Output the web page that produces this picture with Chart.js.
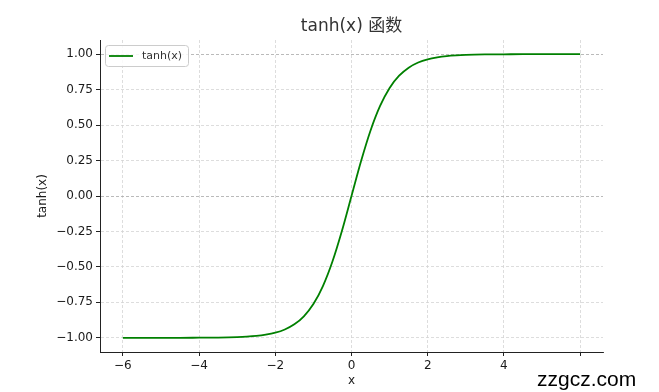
<!DOCTYPE html>
<html><head><meta charset="utf-8">
<script src="https://cdn.jsdelivr.net/npm/chart.js@4"></script>
<style>html,body{margin:0;padding:0;background:#fff}</style>
</head><body>
<canvas id="c" width="659" height="392"></canvas>
<script>
const chartTitle = 'tanh(x) 函数';
const seriesName = 'tanh(x)';
const xAxisTitle = 'x';
const yAxisTitle = 'tanh(x)';
const watermark = 'zzgcz.com';

const xValues = [-6, -5.5, -5, -4.5, -4, -3.5, -3, -2.75, -2.5, -2.25, -2, -1.75, -1.5, -1.25, -1, -0.75, -0.5, -0.25,
  0, 0.25, 0.5, 0.75, 1, 1.25, 1.5, 1.75, 2, 2.25, 2.5, 2.75, 3, 3.5, 4, 4.5, 5, 5.5, 6];
const yValues = [-1.000, -1.000, -1.000, -1.000, -0.999, -0.998, -0.995, -0.992, -0.987, -0.978, -0.964, -0.941, -0.905, -0.848, -0.762, -0.635, -0.462, -0.245,
  0.000, 0.245, 0.462, 0.635, 0.762, 0.848, 0.905, 0.941, 0.964, 0.978, 0.987, 0.992, 0.995, 0.998, 0.999, 1.000, 1.000, 1.000, 1.000];

const xTicks = [-6, -4, -2, 0, 2, 4, 6];
const xTickLabels = ['−6', '−4', '−2', '0', '2', '4', ''];
const yTicks = [-1, -0.75, -0.5, -0.25, 0, 0.25, 0.5, 0.75, 1];
const yTickLabels = ['−1.00', '−0.75', '−0.50', '−0.25', '0.00', '0.25', '0.50', '0.75', '1.00'];

const FF = '"DejaVu Sans", "Noto Sans CJK SC", sans-serif';
const lineColor = '#008000';
const textColor = '#1a1a1a';

const points = xValues.map((x, i) => ({x: x, y: yValues[i]}));

const overlay = {
  id: 'overlay',
  afterDraw(chart) {
    const ctx = chart.ctx, ca = chart.chartArea;
    ctx.save();
    // title
    ctx.fillStyle = '#333';
    ctx.font = '17px ' + FF;
    ctx.textAlign = 'center';
    ctx.textBaseline = 'middle';
    ctx.fillText(chartTitle, (ca.left + ca.right) / 2, 27);
    // legend
    const lx = 105, ly = 45, lw = 83, lh = 21;
    ctx.fillStyle = 'rgba(255,255,255,0.85)';
    ctx.strokeStyle = '#cccccc';
    ctx.lineWidth = 1;
    ctx.beginPath();
    if (ctx.roundRect) ctx.roundRect(lx + 0.5, ly + 0.5, lw, lh, 3); else ctx.rect(lx + 0.5, ly + 0.5, lw, lh);
    ctx.fill(); ctx.stroke();
    ctx.strokeStyle = lineColor;
    ctx.lineWidth = 1.8;
    ctx.beginPath();
    ctx.moveTo(109, ly + lh / 2 + 0.5);
    ctx.lineTo(133, ly + lh / 2 + 0.5);
    ctx.stroke();
    ctx.fillStyle = '#333';
    ctx.font = '11px ' + FF;
    ctx.textAlign = 'left';
    ctx.fillText(seriesName, 142, ly + lh / 2 + 1);
    // watermark
    ctx.fillStyle = '#000';
    ctx.font = '21px "Liberation Sans", Arial, sans-serif';
    ctx.textAlign = 'left';
    ctx.fillText(watermark, 537, 380);
    ctx.restore();
  }
};

new Chart(document.getElementById('c'), {
  type: 'line',
  data: {
    datasets: [{
      label: seriesName,
      data: points,
      borderColor: lineColor,
      backgroundColor: lineColor,
      borderWidth: 1.8,
      pointRadius: 0,
      fill: false,
      cubicInterpolationMode: 'monotone'
    }]
  },
  options: {
    responsive: false,
    animation: false,
    devicePixelRatio: 1,
    layout: {padding: {top: 40, right: 56, left: 0, bottom: 0}},
    plugins: {legend: {display: false}, title: {display: false}, tooltip: {enabled: false}},
    scales: {
      x: {
        type: 'linear', min: -6.6, max: 6.6,
        afterBuildTicks: s => { s.ticks = xTicks.map(v => ({value: v})); },
        afterFit: s => { s.height = 40; },
        ticks: {
          callback: (v) => { const i = xTicks.indexOf(v); return i >= 0 ? xTickLabels[i] : ''; },
          font: {size: 12, family: FF}, color: textColor, padding: 3, maxRotation: 0, autoSkip: false
        },
        grid: {color: '#d4d4d4', lineWidth: 0.8, tickLength: 4, tickColor: '#222', tickWidth: 1},
        border: {display: true, color: '#222', width: 1, dash: [3, 2]},
        title: {display: true, text: xAxisTitle, font: {size: 12, family: FF}, color: textColor, padding: {top: 0, bottom: 4}}
      },
      y: {
        type: 'linear', min: -1.1, max: 1.1,
        afterBuildTicks: s => { s.ticks = yTicks.map(v => ({value: v})); },
        afterFit: s => { s.width = 100; },
        ticks: {
          callback: (v) => { const i = yTicks.indexOf(v); return i >= 0 ? yTickLabels[i] : ''; },
          font: {size: 12, family: FF}, color: textColor, padding: 3, autoSkip: false
        },
        grid: {
          color: (c) => (c.tick && (c.tick.value === 0 || c.tick.value === 1)) ? '#a8a8a8' : '#d4d4d4',
          lineWidth: 0.8, tickLength: 4, tickColor: '#222', tickWidth: 1
        },
        border: {display: true, color: '#222', width: 1, dash: [3, 2]},
        title: {display: true, text: yAxisTitle, font: {size: 12, family: FF}, color: textColor, padding: {top: 36, bottom: 0}}
      }
    }
  },
  plugins: [overlay]
});
</script>
</body></html>
